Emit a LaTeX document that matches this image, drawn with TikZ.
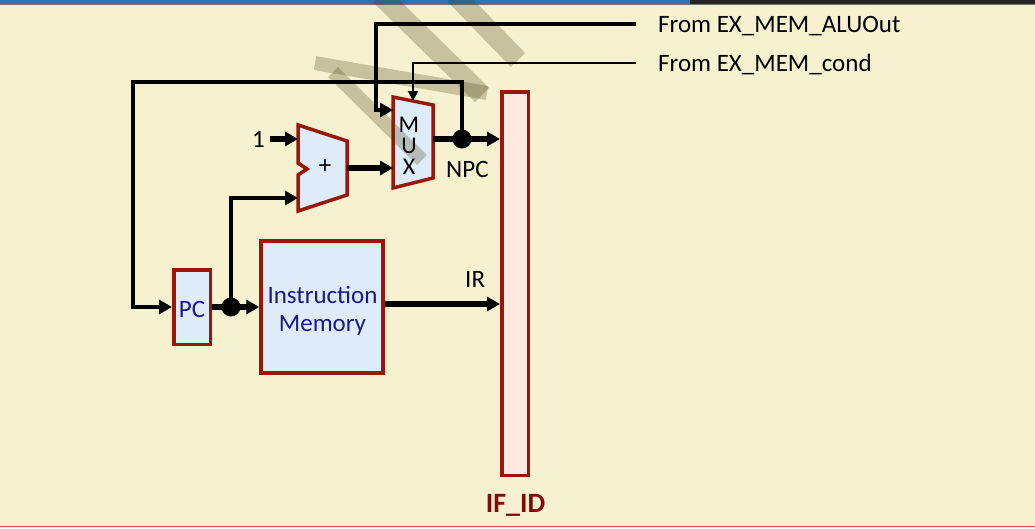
\documentclass[tikz,border=0pt]{standalone}
\usepackage{fontspec}
\setmainfont{Carlito}
\usetikzlibrary{arrows.meta,calc}
\definecolor{bg}{RGB}{246,241,206}
\definecolor{boxred}{RGB}{155,22,10}
\definecolor{boxblue}{RGB}{221,236,248}
\definecolor{regfill}{RGB}{253,234,222}
\definecolor{txtblue}{RGB}{25,25,140}
\definecolor{topblue}{RGB}{46,117,170}
\definecolor{wm}{RGB}{66,58,19}
\definecolor{ifred}{RGB}{128,10,10}
\definecolor{botred}{RGB}{192,80,77}
\begin{document}
\begin{tikzpicture}[x=1pt,y=-1pt,
  wire/.style={line width=4.5pt, black},
  fatwire/.style={line width=5.8pt, black},
  thinwire/.style={line width=2pt, black},
  arr/.style={-{Triangle[length=13pt,width=14pt]}},
  sarr/.style={-{Triangle[length=10pt,width=10pt]}},
  unit/.style={draw=boxred, line width=3.5pt, fill=boxblue, inner sep=0pt},
  lbl/.style={font=\fontsize{25}{30}\selectfont, inner sep=0pt},
  dot/.style={circle, fill=black, minimum size=19pt, inner sep=0pt},
  wmark/.style={draw=wm, opacity=0.26, line cap=butt}]
% background
\fill[bg] (0,0) rectangle (1035,528);
\useasboundingbox (0,0) rectangle (1035,528);
\fill[topblue] (0,0) rectangle (690,4);
\fill[black!85] (690,0) rectangle (1035,4);
\draw[line width=1pt, black!55] (0,4.5) -- (1035,4.5);
\draw[line width=1.5pt, botred] (0,526.5) -- (1035,526.5);

% units
\node[unit, minimum width=36.5pt, minimum height=74.5pt] (pc) at (192,307) {};
\node[lbl, text=txtblue] (pctext) at (192,309) {PC};
\node[unit, minimum width=122pt, minimum height=132pt] (im) at (322,307) {};
\node[lbl, text=txtblue, anchor=base] (imt1) at (322.5,303) {Instruction};
\node[lbl, text=txtblue, anchor=base] (imt2) at (322.5,331.5) {Memory};
\node[draw=boxred, line width=3.5pt, fill=regfill, minimum width=26.5pt, minimum height=383.5pt, inner sep=0pt] (ifid) at (515,283.5) {};
\node[inner sep=0pt, font=\bfseries\fontsize{28}{30}\selectfont, text=ifred, anchor=base] (ifidlbl) at (515.5,512) {IF\_ID};

% adder
\draw[unit] (298,125) -- (347,141) -- (347,195) -- (298,211) -- (298,175) -- (307,169) -- (298,163) -- cycle;
\node[lbl] (plus) at (325,167) {+};
\coordinate (addA) at (298,139);
\coordinate (addB) at (298,198);
\coordinate (addO) at (347,168);

% mux
\draw[unit] (393,97) -- (433,105) -- (433,178) -- (393,188) -- cycle;
\node[inner sep=0pt, align=center, font=\fontsize{24}{21}\selectfont] (muxlbl) at (409,146) {M\\U\\X};
\coordinate (muxA) at (393,110);
\coordinate (muxB) at (393,168);
\coordinate (muxS) at (413,101);
\coordinate (muxO) at (433,139);

% watermark
\draw[wmark, line width=14pt] (315,63) -- (487,93);
\draw[wmark, line width=20pt] (380,-5) -- (482,95);
\draw[wmark, line width=14pt] (333,72) -- (422,160);
\draw[wmark, line width=20pt] (455,-5) -- (518,60);

% labels
\node[lbl, anchor=base west] (alutxt) at (658,32) {From EX\_MEM\_ALUOut};
\node[lbl, anchor=base west] (condtxt) at (658,71) {From EX\_MEM\_cond};
\node[lbl, anchor=base west] (npc) at (446,177) {NPC};
\node[lbl, anchor=base west] (ir) at (465,287) {IR};
\node[lbl, anchor=base] (one) at (258.5,147) {1};

% junctions
\node[dot] (j1) at (462,139) {};
\node[dot] (j2) at (231,307) {};

% wires
\coordinate (aluin) at (636,24);
\coordinate (alucorner) at (376,24);
\draw[wire, arr] (aluin) -- (alucorner) |- (muxA);
\coordinate (condin) at (636,63);
\draw[thinwire, sarr] (condin) -| (muxS);
\coordinate (fbl) at (133,82);
\draw[wire, arr] (j1.center) |- (fbl) |- (pc.west);
\draw[fatwire] (muxO) -- (j1.center);
\draw[fatwire, arr] (j1.center) -- (j1 -| ifid.west);
\coordinate (onestart) at (270,139);
\draw[fatwire, arr] (onestart) -- (addA);
\draw[fatwire, arr] (addO) -- (muxB);
\draw[fatwire] (pc.east) -- (j2.center);
\draw[fatwire, arr] (j2.center) -- (j2 -| im.west);
\draw[wire, arr] (j2.center) |- (addB);
\coordinate (irs) at (385,304);
\draw[fatwire, arr] (irs) -- (irs -| ifid.west);
\end{tikzpicture}
\end{document}
